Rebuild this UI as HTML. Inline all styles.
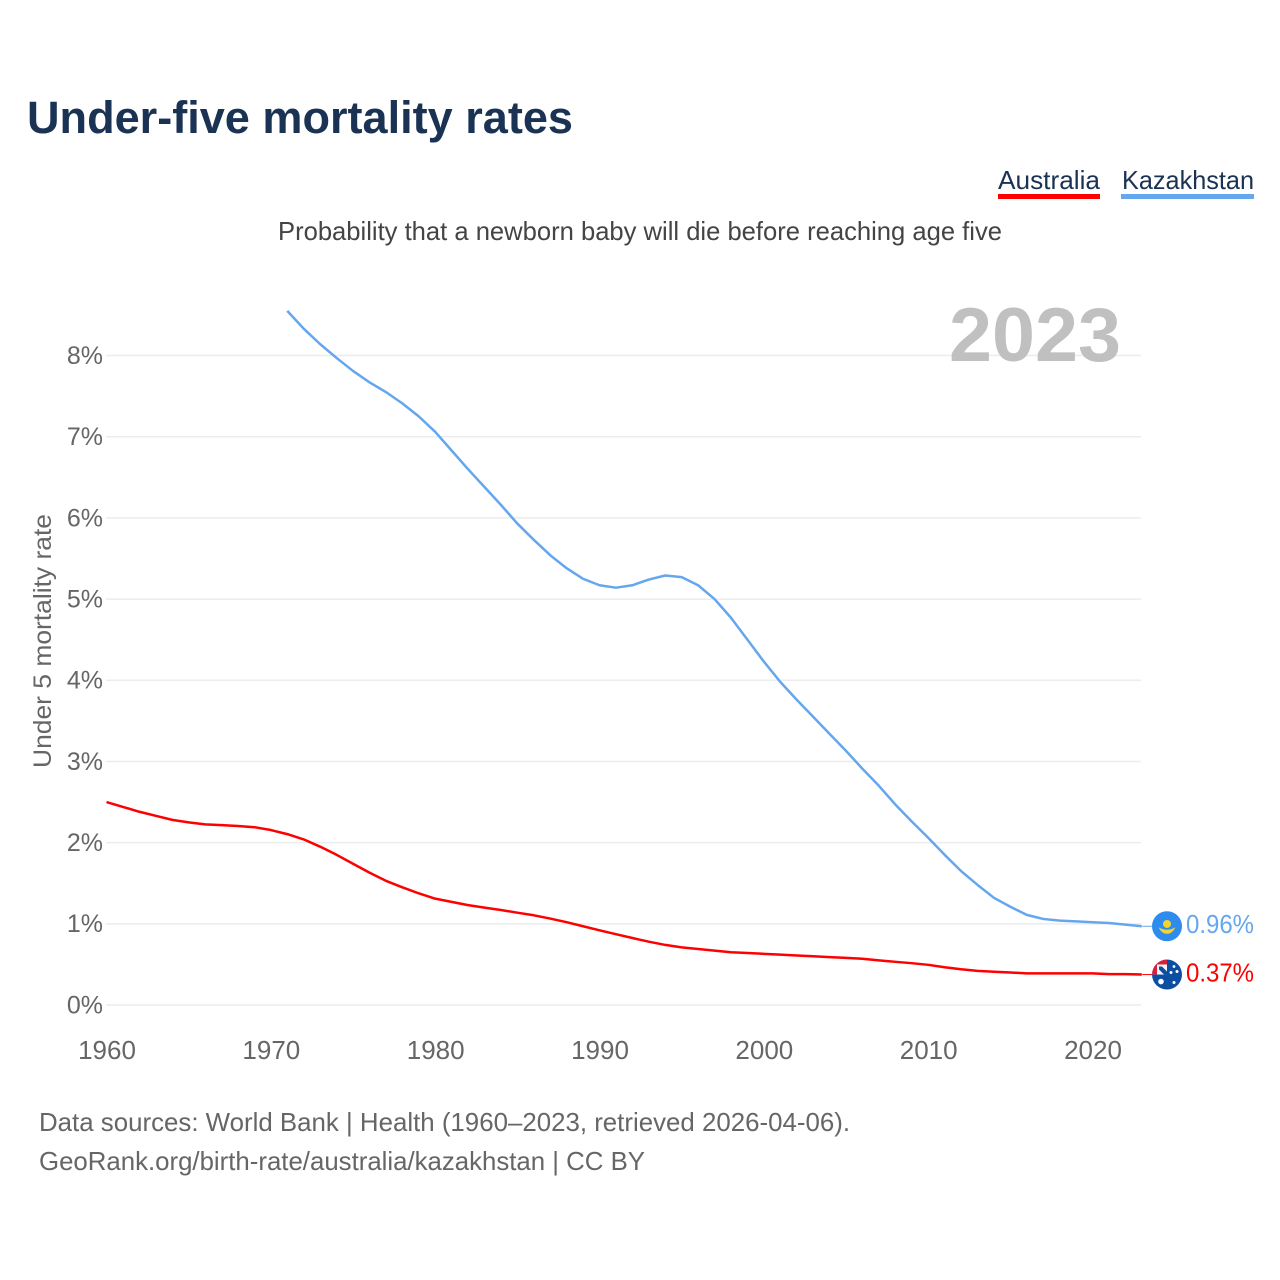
<!DOCTYPE html>
<html lang="en">
<head>
<meta charset="utf-8">
<title>Under-five mortality rates</title>
<style>
html,body{margin:0;padding:0;background:#fff;}
svg{display:block;}
text{font-family:"Liberation Sans",sans-serif;}
</style>
</head>
<body>
<svg id="chart" xmlns="http://www.w3.org/2000/svg" width="1280" height="1280" viewBox="0 0 1280 1280">
  <rect x="0" y="0" width="1280" height="1280" fill="#fff"/>
  <text x="27" y="133" font-size="45" font-weight="700" fill="#1a3254" textLength="546" lengthAdjust="spacingAndGlyphs">Under-five mortality rates</text>

  <g>
    <g>
      <text x="998" y="189" font-size="26" fill="#1a3254" textLength="102" lengthAdjust="spacingAndGlyphs">Australia</text>
      <rect x="998" y="194" width="102" height="5" fill="#ff0000"/>
    </g>
    <g>
      <text x="1122" y="189" font-size="26" fill="#1a3254" textLength="132" lengthAdjust="spacingAndGlyphs">Kazakhstan</text>
      <rect x="1121" y="194" width="133" height="5" fill="#64a7ee"/>
    </g>
  </g>

  <text x="278" y="240" font-size="26" fill="#444" textLength="724" lengthAdjust="spacingAndGlyphs">Probability that a newborn baby will die before reaching age five</text>

  <g id="grid"></g>
  <g id="yticks"></g>
  <g id="xticks"></g>

  <text transform="translate(51 768) rotate(-90)" x="0" y="0" font-size="25" fill="#666" textLength="254" lengthAdjust="spacingAndGlyphs">Under 5 mortality rate</text>

  <text x="949" y="361" font-size="76" font-weight="700" fill="#c0c0c0" textLength="172" lengthAdjust="spacingAndGlyphs">2023</text>

  <g id="series"></g>
  <g id="markers"></g>

  <defs>
    <clipPath id="clip-au"><circle cx="0" cy="0" r="15"/></clipPath>
  </defs>

  <text x="39" y="1131" font-size="26" fill="#666" textLength="811" lengthAdjust="spacingAndGlyphs">Data sources: World Bank | Health (1960–2023, retrieved 2026-04-06).</text>
  <text x="39" y="1170" font-size="26" fill="#666" textLength="606" lengthAdjust="spacingAndGlyphs">GeoRank.org/birth-rate/australia/kazakhstan | CC BY</text>
</svg>
<script>
const yTickValues = [0, 1, 2, 3, 4, 5, 6, 7, 8];
const xTickValues = [1960, 1970, 1980, 1990, 2000, 2010, 2020];
const australiaStartYear = 1960;
const australiaValues = [2.50, 2.44, 2.38, 2.33, 2.28, 2.25, 2.225, 2.215, 2.205, 2.19, 2.155, 2.105, 2.04, 1.95, 1.85, 1.74, 1.63, 1.53, 1.45, 1.375, 1.31, 1.27, 1.23, 1.20, 1.17, 1.137, 1.105, 1.065, 1.02, 0.97, 0.92, 0.872, 0.825, 0.78, 0.74, 0.71, 0.69, 0.67, 0.65, 0.64, 0.63, 0.62, 0.61, 0.60, 0.59, 0.58, 0.57, 0.55, 0.532, 0.515, 0.495, 0.465, 0.44, 0.42, 0.41, 0.40, 0.39, 0.39, 0.39, 0.39, 0.39, 0.38, 0.38, 0.375];
const kazakhstanStartYear = 1971;
const kazakhstanValues = [8.55, 8.33, 8.14, 7.97, 7.81, 7.67, 7.55, 7.41, 7.25, 7.06, 6.83, 6.60, 6.38, 6.16, 5.93, 5.73, 5.54, 5.38, 5.25, 5.17, 5.14, 5.17, 5.24, 5.29, 5.27, 5.17, 5.00, 4.77, 4.50, 4.23, 3.98, 3.76, 3.55, 3.34, 3.13, 2.91, 2.70, 2.47, 2.26, 2.06, 1.85, 1.65, 1.48, 1.32, 1.21, 1.11, 1.06, 1.04, 1.03, 1.02, 1.01, 0.99, 0.97];
const australiaLabel = "0.37%";
const kazakhstanLabel = "0.96%";

const NS = "http://www.w3.org/2000/svg";
function xScale(year) { return 107 + (year - 1960) * (1093 - 107) / 60; }
function yScale(v) { return 1005 - v * (1005 - 355.5) / 8; }
function make(tag, attrs, parent) {
  const el = document.createElementNS(NS, tag);
  for (const k in attrs) el.setAttribute(k, attrs[k]);
  parent.appendChild(el);
  return el;
}
function pathFrom(startYear, values) {
  return values.map((v, i) => (i ? "L" : "M") + xScale(startYear + i - 0.03).toFixed(2) + " " + yScale(v).toFixed(2)).join(" ");
}

const grid = document.getElementById("grid");
const yticks = document.getElementById("yticks");
yTickValues.forEach(v => {
  const line = make("line", {x1: 106, x2: 1141, y1: yScale(v), y2: yScale(v), stroke: "#ececec", "stroke-width": 1.5}, grid);
  
  
  const t = make("text", {x: 103, y: yScale(v) + 8.4, "text-anchor": "end", "font-size": 25, fill: "#666"}, yticks);
  
  
  t.textContent = v + "%";
});

const xticks = document.getElementById("xticks");
xTickValues.forEach(y => {
  const t = make("text", {x: xScale(y), y: 1059, "text-anchor": "middle", "font-size": 26, fill: "#666"}, xticks);
  
  
  t.textContent = y;
});

const series = document.getElementById("series");
const auLine = make("path", {d: pathFrom(australiaStartYear, australiaValues), fill: "none", stroke: "#ff0000", "stroke-width": 2.5, "stroke-linejoin": "round"}, series);


const kzLine = make("path", {d: pathFrom(kazakhstanStartYear, kazakhstanValues), fill: "none", stroke: "#64a7ee", "stroke-width": 2.5, "stroke-linejoin": "round"}, series);



const markers = document.getElementById("markers");
const endYear = 2023;
const kzEndY = yScale(kazakhstanValues[kazakhstanValues.length - 1]);
const auEndY = yScale(australiaValues[australiaValues.length - 1]);

const kzConn = make("line", {x1: xScale(endYear), x2: 1152, y1: kzEndY, y2: kzEndY, stroke: "#64a7ee", "stroke-width": 1}, markers);


const auConn = make("line", {x1: xScale(endYear), x2: 1152, y1: auEndY, y2: auEndY, stroke: "#ff0000", "stroke-width": 1}, markers);



const kzFlag = make("g", {transform: "translate(1167 " + kzEndY + ")"}, markers);


make("circle", {cx: 0, cy: 0, r: 15, fill: "#2f8cef"}, kzFlag);
make("circle", {cx: 0, cy: -2.3, r: 4, fill: "#f4d32e"}, kzFlag);
make("path", {d: "M-8.5 1 Q0 6 8.5 1 Q5 8 0 7.5 Q-5 8 -8.5 1 Z", fill: "#f4d32e"}, kzFlag);

const auFlag = make("g", {transform: "translate(1167 " + auEndY + ")"}, markers);


const auClip = make("g", {"clip-path": "url(#clip-au)"}, auFlag);
make("rect", {x: -15, y: -15, width: 30, height: 30, fill: "#0b4ea2"}, auClip);
make("rect", {x: -15, y: -15, width: 15, height: 15, fill: "#f4f4f8"}, auClip);
make("path", {d: "M-15 -15 L0 -15 L0 -10 L-10 -10 L-10 0 L-15 0 Z", fill: "#d8203a"}, auClip);
make("path", {d: "M-8 -8 L-5 -8 L0 -3 L0 0 L-3 0 L-8 -5 Z", fill: "#0b4ea2"}, auClip);
make("circle", {cx: -6, cy: 7, r: 2.8, fill: "#fff"}, auClip);
make("circle", {cx: 4, cy: -2, r: 1.5, fill: "#fff"}, auClip);
make("circle", {cx: 10, cy: -3, r: 1.5, fill: "#fff"}, auClip);
make("circle", {cx: 7, cy: -8, r: 1.4, fill: "#fff"}, auClip);
make("circle", {cx: 7, cy: 8, r: 1.5, fill: "#fff"}, auClip);

const kzVal = make("text", {x: 1186, y: kzEndY + 7, "font-size": 26, fill: "#64a7ee", textLength: 68, lengthAdjust: "spacingAndGlyphs"}, markers);


kzVal.textContent = kazakhstanLabel;
const auVal = make("text", {x: 1186, y: auEndY + 7, "font-size": 26, fill: "#ff0000", textLength: 68, lengthAdjust: "spacingAndGlyphs"}, markers);


auVal.textContent = australiaLabel;
</script>
</body>
</html>
